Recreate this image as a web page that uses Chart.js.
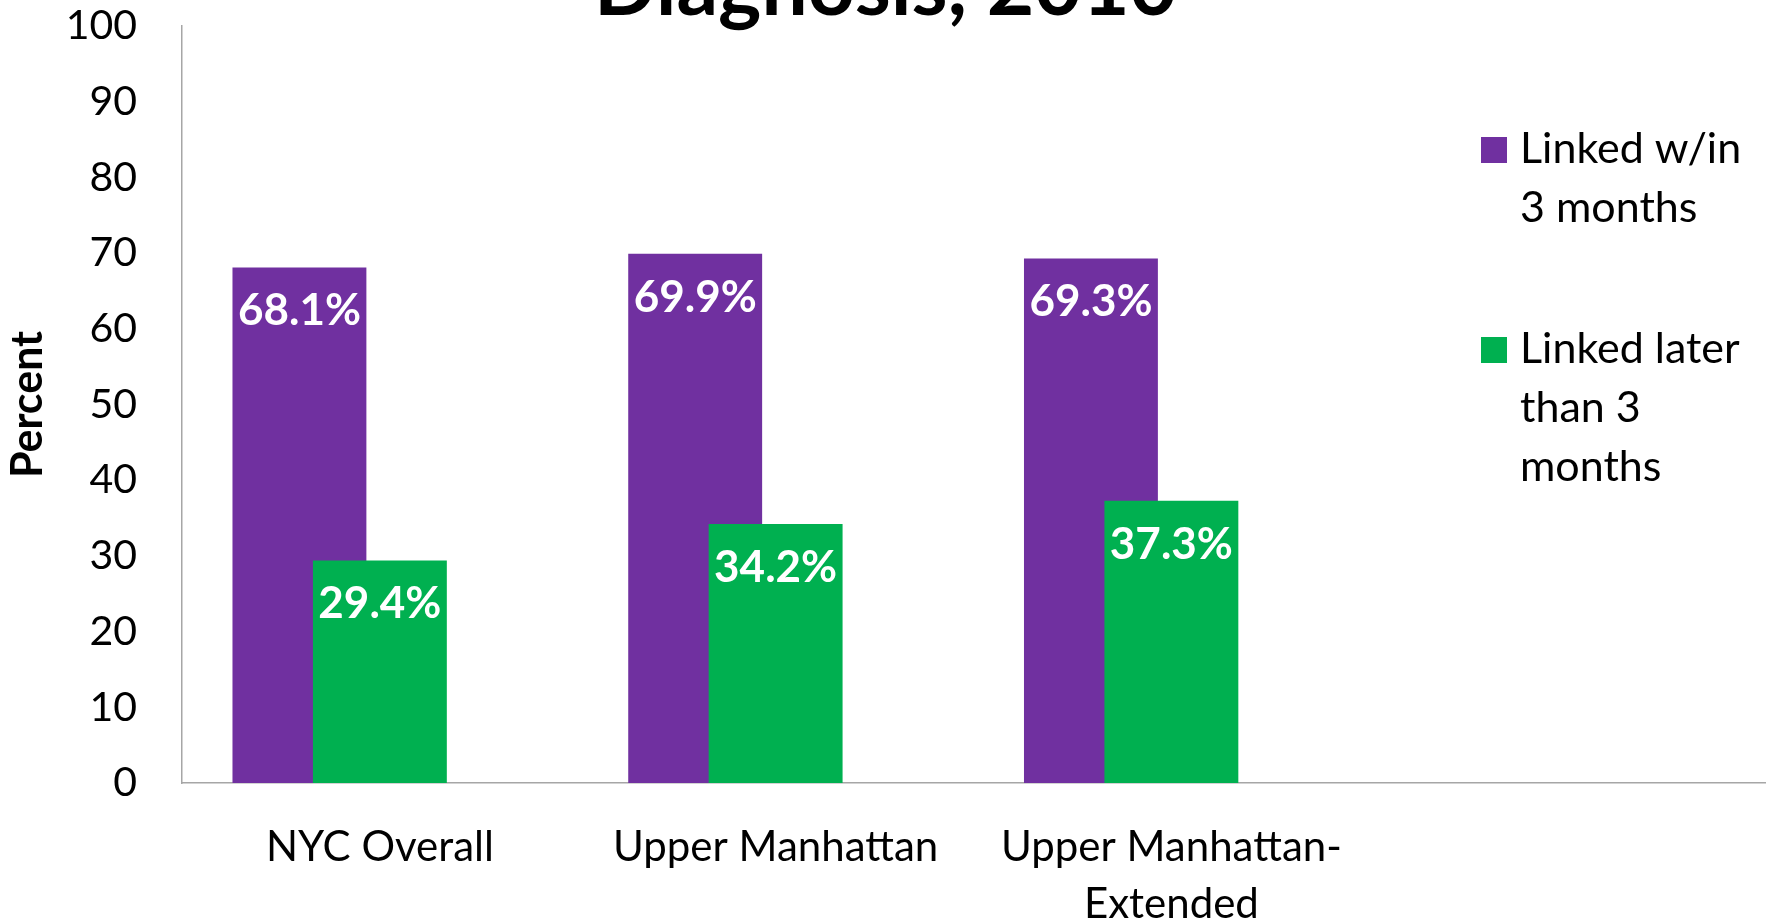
<!DOCTYPE html>
<html>
<head>
<meta charset="utf-8">
<script src="https://cdn.jsdelivr.net/npm/chart.js@4.4.1/dist/chart.umd.min.js"></script>
<style>
  html, body { margin: 0; padding: 0; background: #ffffff; }
  #wrap { width: 1771px; height: 920px; }
</style>
</head>
<body>
<div id="wrap"><canvas id="c" width="1771" height="920"></canvas></div>
<script>
// ---- data ----
const categories = ['NYC Overall', 'Upper Manhattan', ['Upper Manhattan-', 'Extended'], ''];
const linkedWithin3 = [68.1, 69.9, 69.3];
const linkedLater = [29.4, 34.2, 37.3];
const seriesNames = ['Linked w/in 3 months', 'Linked later than 3 months'];
const legendLines = [['Linked w/in', '3 months'], ['Linked later', 'than 3', 'months']];
const titleText = 'Diagnosis, 2010';
const yAxisTitle = 'Percent';
const yMin = 0, yMax = 100, yStep = 10;

// ---- styles ----
const PURPLE = '#7030A0';
const GREEN = '#00B050';
const AXIS = '#a6a6a6';
const FONT = 'Lato';

// Title (its first line lies above the top edge of the picture, only the last line shows)
const clippedTitle = {
  id: 'clippedTitle',
  afterDraw(chart) {
    const ctx = chart.ctx;
    ctx.save();
    ctx.font = 'bold 82px ' + FONT;
    ctx.fillStyle = '#000000';
    ctx.textAlign = 'center';
    ctx.textBaseline = 'alphabetic';
    ctx.fillText(titleText, chart.width / 2, 15);
    ctx.restore();
  }
};

// Draw the later series again after the first, so it sits on top where bars overlap
const overlapOrder = {
  id: 'overlapOrder',
  beforeDatasetDraw(chart, args) {
    if (chart.data.datasets[args.index].drawOnTop && !chart.$drawingTop) return false;
  },
  afterDatasetsDraw(chart) {
    chart.$drawingTop = true;
    chart.data.datasets.forEach((ds, i) => {
      if (ds.drawOnTop) chart.getDatasetMeta(i).controller.draw();
    });
    chart.$drawingTop = false;
  }
};

const valueLabels = {
  id: 'valueLabels',
  afterDatasetsDraw(chart) {
    const ctx = chart.ctx;
    ctx.save();
    ctx.font = 'bold 44px ' + FONT;
    ctx.fillStyle = '#ffffff';
    ctx.textAlign = 'center';
    ctx.textBaseline = 'alphabetic';
    chart.data.datasets.forEach((ds, i) => {
      if (!ds.showValues) return;
      const meta = chart.getDatasetMeta(i);
      meta.data.forEach((el, j) => {
        const v = ds.data[j];
        if (v === null || v === undefined) return;
        ctx.fillText(v.toFixed(1) + '%', el.x, el.y + 58);
      });
    });
    ctx.restore();
  }
};

const sideLegend = {
  id: 'sideLegend',
  afterDraw(chart) {
    const ctx = chart.ctx;
    const entries = [
      { color: PURPLE, lines: legendLines[0] },
      { color: GREEN, lines: legendLines[1] }
    ];
    ctx.save();
    ctx.font = '43px ' + FONT;
    ctx.textAlign = 'left';
    ctx.textBaseline = 'alphabetic';
    entries.forEach((e, k) => {
      const top = 137 + k * 200;
      ctx.fillStyle = e.color;
      ctx.fillRect(1481, top, 26, 26);
      ctx.fillStyle = '#000000';
      e.lines.forEach((line, m) => ctx.fillText(line, 1520, top + 26 + m * 59));
    });
    ctx.restore();
  }
};

new Chart(document.getElementById('c'), {
  type: 'bar',
  data: {
    labels: categories,
    datasets: [
      { label: seriesNames[0], data: linkedWithin3, backgroundColor: PURPLE, showValues: true },
      { label: seriesNames[1], data: linkedLater, backgroundColor: GREEN, showValues: true, drawOnTop: true },
      { label: '', data: [] }
    ]
  },
  options: {
    responsive: false,
    animation: false,
    layout: { padding: { left: 0, right: 6, top: 26, bottom: 0 } },
    datasets: { bar: { categoryPercentage: 0.6098, barPercentage: 1.6646 } },
    plugins: {
      legend: { display: false },
      tooltip: { enabled: false },
      title: { display: false }
    },
    scales: {
      x: {
        type: 'category',
        offset: true,
        grid: { display: false, drawTicks: true, tickLength: 36 },
        border: { display: true, color: AXIS, width: 1.5 },
        ticks: { color: '#000000', font: { family: FONT, size: 42, lineHeight: 1.36 },
                 padding: 0, maxRotation: 0, minRotation: 0, autoSkip: false },
        afterFit(s) { s.height = 137; }
      },
      y: {
        min: yMin,
        max: yMax,
        grid: { display: false, drawTicks: true, tickLength: 45 },
        border: { display: true, color: AXIS, width: 1.5 },
        ticks: { stepSize: yStep, color: '#000000', font: { family: FONT, size: 41 }, padding: 0 },
        title: { display: true, text: yAxisTitle, color: '#000000',
                 font: { family: FONT, size: 43, weight: 'bold', lineHeight: 1.2 },
                 padding: { top: 2, bottom: 0 } },
        afterFit(s) { s.width = 182; }
      }
    }
  },
  plugins: [overlapOrder, valueLabels, sideLegend, clippedTitle]
});
</script>
</body>
</html>
